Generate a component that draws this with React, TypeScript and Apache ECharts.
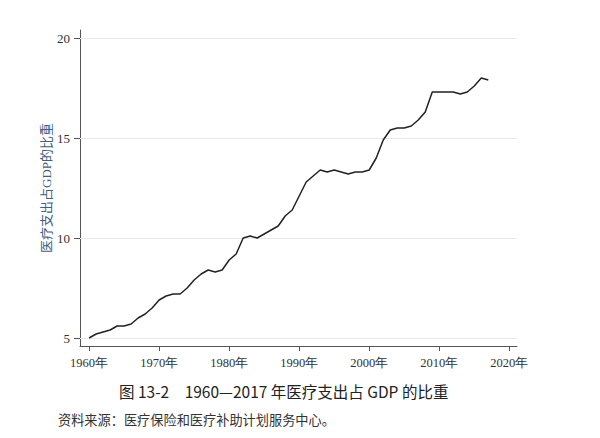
import React, { useEffect, useRef } from "react";
import * as echarts from "echarts";

const years: number[] = [];
for (let y = 1960; y <= 2017; y++) years.push(y);

const shareOfGDP = [
  5.0, 5.2, 5.3, 5.4, 5.6, 5.6, 5.7, 6.0, 6.2, 6.5,
  6.9, 7.1, 7.2, 7.2, 7.5, 7.9, 8.2, 8.4, 8.3, 8.4,
  8.9, 9.2, 10.0, 10.1, 10.0, 10.2, 10.4, 10.6, 11.1, 11.4,
  12.1, 12.8, 13.1, 13.4, 13.3, 13.4, 13.3, 13.2, 13.3, 13.3,
  13.4, 14.0, 14.9, 15.4, 15.5, 15.5, 15.6, 15.9, 16.3, 17.3,
  17.3, 17.3, 17.3, 17.2, 17.3, 17.6, 18.0, 17.9,
];

const xTicks = [1960, 1970, 1980, 1990, 2000, 2010, 2020];
const yTicks = [5, 10, 15, 20];

const yAxisTitle = "医疗支出占GDP的比重";
const chartTitle = "图 13-2　1960—2017 年医疗支出占 GDP 的比重";
const sourceNote = "资料来源：医疗保险和医疗补助计划服务中心。";

export default function App() {
  const ref = useRef<HTMLDivElement>(null);
  useEffect(() => {
    if (!ref.current) return;
    const chart = echarts.init(ref.current, null, { renderer: "svg" });
    const serif = "'Liberation Serif', 'DejaVu Serif', serif";
    chart.setOption({
      animation: false,
      backgroundColor: "#ffffff",
      grid: { left: 80, right: 83, top: 30, bottom: 92 },
      xAxis: {
        type: "value",
        min: 1958.7,
        max: 2021.1,
        axisLine: { show: true, lineStyle: { color: "#555", width: 1 } },
        axisTick: {
          show: true,
          length: 5,
          customValues: xTicks,
          lineStyle: { color: "#555" },
        },
        axisLabel: {
          customValues: xTicks,
          formatter: (v: number) => v + "年",
          fontFamily: serif,
          fontSize: 12.5,
          color: "#333",
          margin: 10,
        },
        splitLine: { show: false },
      },
      yAxis: {
        type: "value",
        min: 4.6,
        max: 20.4,
        name: yAxisTitle,
        nameLocation: "middle",
        nameGap: 27,
        nameMoveOverlap: false,
        nameTextStyle: {
          fontFamily: "'Liberation Serif', 'Noto Sans CJK SC', serif",
          fontSize: 13,
          color: "#3f5f80",
        },
        axisLine: { show: true, lineStyle: { color: "#555", width: 1 } },
        axisTick: {
          show: true,
          length: 6,
          customValues: yTicks,
          lineStyle: { color: "#555" },
        },
        axisLabel: {
          customValues: yTicks,
          fontFamily: serif,
          fontSize: 13,
          color: "#333",
          margin: 10,
        },
        splitLine: { show: false },
      },
      graphic: [
        {
          type: "text",
          left: 119,
          top: 383,
          style: {
            text: chartTitle,
            fontFamily: "'Noto Sans CJK SC', 'Noto Sans', sans-serif",
            fontSize: 15.5,
            fill: "#222",
          },
        },
        {
          type: "text",
          left: 58,
          top: 413,
          style: {
            text: sourceNote,
            fontFamily: "'Noto Sans CJK SC', serif",
            fontSize: 13.2,
            fill: "#333",
          },
        },
      ],
      series: [
        {
          type: "line",
          data: years.map((y, i) => [y, shareOfGDP[i]]),
          showSymbol: false,
          symbol: "none",
          lineStyle: { color: "#222", width: 1.5 },
          markLine: {
            silent: true,
            symbol: "none",
            label: { show: false },
            lineStyle: { color: "#e8e8e8", width: 1, type: "solid" },
            data: yTicks.map((v) => ({ yAxis: v })),
            z: 1,
          },
        },
      ],
    });
    return () => chart.dispose();
  }, []);
  return <div ref={ref} style={{ width: 600, height: 438, margin: -8 }} />;
}
